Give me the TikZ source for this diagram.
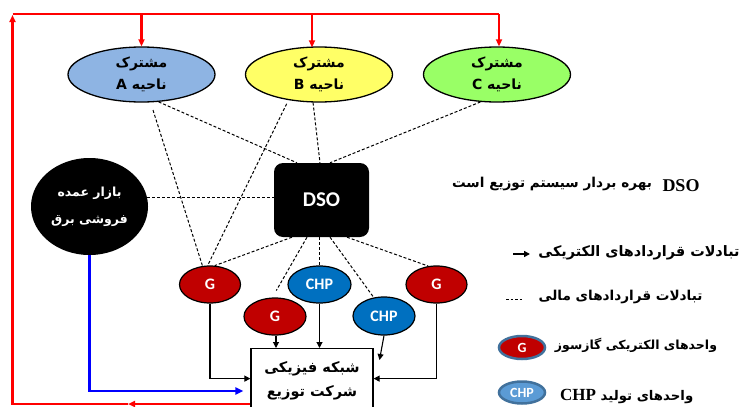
\documentclass[tikz,border=0pt]{standalone}
\usepackage{fontspec}
\setmainfont{Carlito}
\newfontfamily\fa[Script=Arabic]{DejaVu Sans}
\newfontfamily\tnr{Liberation Serif}
\TeXXeTstate=1
\usetikzlibrary{arrows.meta,shapes.geometric,calc}
\definecolor{regA}{HTML}{8EB4E3}
\definecolor{regB}{HTML}{FFFF66}
\definecolor{regC}{HTML}{99FF66}
\definecolor{gred}{HTML}{C00000}
\definecolor{chpblue}{HTML}{0070C0}
\definecolor{legblue}{HTML}{5B9BD5}
\definecolor{legborder}{HTML}{41719C}
\begin{document}
\begin{tikzpicture}[x=1pt,y=-1pt,
  region/.style={ellipse,draw=black,line width=1.3pt,minimum width=147pt,minimum height=55pt,inner sep=0pt,align=center,font=\fa\bfseries\fontsize{14}{22}\selectfont},
  gen/.style={ellipse,draw=black,line width=1.2pt,fill=gred,text=white,minimum width=61pt,minimum height=37pt,inner sep=0pt,font=\bfseries\fontsize{16}{16}\selectfont},
  chp/.style={gen,fill=chpblue},
  leggen/.style={ellipse,draw=legborder,line width=2.5pt,fill=gred,text=white,minimum width=46pt,minimum height=23pt,inner sep=0pt,font=\bfseries\fontsize{14}{14}\selectfont},
  fin/.style={line width=1pt,dash pattern=on 3pt off 2pt},
  elec/.style={line width=1.1pt,-{Triangle[length=6pt,width=6pt]}},
  redline/.style={red,line width=2.2pt},
  redtip/.style={-{Triangle[length=7pt,width=6pt]}},
  legtext/.style={font=\fa\bfseries\fontsize{#1}{#1}\selectfont,inner sep=0pt},
]
\useasboundingbox (0,0) rectangle (745,407);
\clip (0,0) rectangle (745,407);

% region consumers
\node[region,fill=regA] (A) at (141.5,74.5) {\beginR مشترک\endR\\\beginR ناحیه A\endR};
\node[region,fill=regB] (B) at (319,74.5) {\beginR مشترک\endR\\\beginR ناحیه B\endR};
\node[region,fill=regC] (C) at (497,74.5) {\beginR مشترک\endR\\\beginR ناحیه C\endR};

% wholesale market
\node[ellipse,fill=black,minimum width=117pt,minimum height=97pt,inner sep=0pt,text=white,align=center,font=\fa\bfseries\fontsize{12.5}{27}\selectfont] (W) at (89.5,206.5) {\beginR بازار عمده\endR\\\beginR فروشی برق\endR};

% DSO
\node[rounded corners=9pt,fill=black,minimum width=95pt,minimum height=74pt,text=white,font=\bfseries\fontsize{21}{21}\selectfont] (dso) at (321.5,200) {DSO};

% generators
\node[gen] (G1) at (210,284.5) {G};
\node[gen,minimum width=62pt] (G2) at (275,316.5) {G};
\node[chp,minimum width=63pt] (CHP1) at (319.5,284.5) {CHP};
\node[chp,minimum width=62pt,minimum height=38pt] (CHP2) at (384,316) {CHP};
\node[gen] (G3) at (436.5,284.5) {G};

% distribution network
\node[draw=black,fill=white,line width=1.2pt,minimum width=122pt,minimum height=64pt,inner sep=0pt,align=center,anchor=north,font=\fa\bfseries\fontsize{14.5}{24}\selectfont] (net) at (312,348) {\beginR شبکه فیزیکی\endR\\\beginR شرکت توزیع\endR};

% financial contracts (dashed)
\draw[fin] (A.-58) -- ([xshift=-24.5pt]dso.north);
\draw[fin,shorten <=8pt] (A.-72) -- (G1.112);
\draw[fin,shorten <=4pt] (B.220) -- (G1.97);
\draw[fin] (B.-102) -- ([xshift=-1.5pt]dso.north);
\draw[fin] (C.239) -- ([xshift=8.5pt]dso.north);
\draw[fin] (W.9) -- (W.9 -| dso.west);
\draw[fin] ([xshift=-29.5pt]dso.south) -- (G1.76);
\draw[fin,shorten >=8pt] ([xshift=-14.5pt]dso.south) -- (G2.98);
\draw[fin] (dso.south -| CHP1.north) -- (CHP1.north);
\draw[fin] ([xshift=8.5pt]dso.south) -- (CHP2.119);
\draw[fin] ([xshift=25.5pt]dso.south) -- (G3.114);

% electrical contracts (black arrows)
\coordinate (chp2end) at (379.5,360);
\draw[elec] (G1.south) |- ([yshift=2pt]net.west);
\draw[elec] (G3.south) |- ([yshift=2pt]net.east);
\draw[elec] ([xshift=1pt]G2.south) -- ([xshift=1pt]G2.south |- net.north);
\draw[elec] (CHP1.south) -- (CHP1.south |- net.north);
\draw[elec] (CHP2.south) -- (chp2end);

% red loop
\coordinate (tl) at (12.5,14);
\coordinate (bl) at (12.5,404);
\coordinate (redmid) at (128,404);
\draw[redline,redtip] (net.west |- bl) -- (redmid);
\draw[redline,redtip] (redmid) -- (bl) -- ([yshift=-1pt]tl);
\draw[redline] (tl) -- ([xshift=2pt]C.north |- tl);
\draw[redline,redtip] (A.north |- tl) -- (A.north);
\draw[redline,redtip] ([xshift=-7pt]B.north |- tl) -- ([xshift=-7pt,yshift=-1pt]B.north);
\draw[redline,redtip] ([xshift=2pt]C.north |- tl) -- ([xshift=2pt]C.north);

% blue line
\coordinate (bluey) at (0,391);
\draw[blue,line width=2.6pt,-{Triangle[length=8pt,width=7pt]},shorten >=7pt] (W.south) |- (net.west |- bluey);

% legend
\node[font=\tnr\bfseries\fontsize{18}{18}\selectfont,inner sep=0pt] (ldso) at (681,186) {DSO};
\node[legtext=13.6] (ldsotext) at (552,184) {\beginR بهره بردار سیستم توزیع است\endR};
\node[legtext=14.4] (lelec) at (639,253) {\beginR تبادلات قراردادهای الکتریکی\endR};
\coordinate (la1) at (513,254);
\coordinate (la2) at (530,254);
\draw[line width=1.5pt,-{Triangle[length=6pt,width=6pt]}] (la1) -- (la2);
\node[legtext=13.6] (lfin) at (620.5,297) {\beginR تبادلات قراردادهای مالی\endR};
\coordinate (ld1) at (506,299);
\coordinate (ld2) at (523,299);
\draw[line width=1pt,dash pattern=on 2.5pt off 2pt] (ld1) -- (ld2);
\node[leggen] (lg) at (522,347.5) {G};
\node[legtext=12.5] (lgtext) at (636,345) {\beginR واحدهای الکتریکی گازسوز\endR};
\node[leggen,fill=legblue,minimum height=22pt] (lchp) at (522,392.5) {CHP};
\node[legtext=13.3] (lchptext) at (647,397) {\beginR واحدهای تولید\endR};
\node[font=\tnr\bfseries\fontsize{17}{17}\selectfont,inner sep=0pt] (lchpname) at (578,395) {CHP};
\end{tikzpicture}
\end{document}
